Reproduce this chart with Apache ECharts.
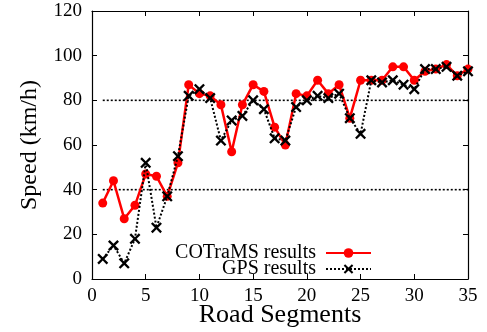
<!DOCTYPE html>
<html><head><meta charset="utf-8">
<script src="https://cdn.jsdelivr.net/npm/echarts@6/dist/echarts.min.js"></script>
<style>html,body{margin:0;padding:0;background:#fff}#c{width:487px;height:332px}</style>
</head><body><div id="c"></div>
<script>
const segments = [1,2,3,4,5,6,7,8,9,10,11,12,13,14,15,16,17,18,19,20,21,22,23,24,25,26,27,28,29,30,31,32,33,34,35];
const cotramsSpeed = [34,44,27,33,47,46,37,52,87,83,82,78,57,78,87,84,68,60,83,82,89,83,87,72,89,89,89,95,95,89,93,94,96,91,94];
const gpsSpeed = [9,15,7,18,52,23,37,55,82,85,81,62,71,73,80,76,63,62,77,80,82,81,83,72,65,89,88,89,87,85,94,94,95,91,93];
const refLevels = [40, 80];
const xTicks = [0,5,10,15,20,25,30,35];
const yTicks = [0,20,40,60,80,100,120];

const font = 'Liberation Serif';
const crossPath = 'path://M0,1.5 L1.5,0 L5,3.5 L8.5,0 L10,1.5 L6.5,5 L10,8.5 L8.5,10 L5,6.5 L1.5,10 L0,8.5 L3.5,5 Z';

const refSeries = refLevels.map(v => ({
  type: 'line', silent: true, symbol: 'none', z: 1,
  data: [[segments[0], v], [segments[segments.length-1], v]],
  lineStyle: {color: '#000', width: 1.6, type: [2, 2]}
}));

const chart = echarts.init(document.getElementById('c'), null, {renderer: 'canvas'});
function axisCommon() {
  return {
    axisLine: {show: true, onZero: false, lineStyle: {color: '#000', width: 1.2}},
    axisTick: {show: true, inside: true, length: 5, lineStyle: {color: '#000', width: 1}},
    splitLine: {show: false}
  };
}
chart.setOption({
  animation: false,
  backgroundColor: '#fff',
  grid: {left: 92, right: 19, top: 11, bottom: 53, containLabel: false, outerBoundsMode: 'none'},
  legend: {
    data: ['COTraMS results', 'GPS results'],
    orient: 'vertical', right: 115, top: 243, padding: 0,
    align: 'right', itemGap: -4, itemWidth: 45, itemHeight: 12,
    textStyle: {fontFamily: font, fontSize: 20, color: '#000', lineHeight: 14, width: 146, align: 'right', padding: [0, 5, 0, 0]}
  },
  xAxis: [
    Object.assign({type: 'value', min: xTicks[0], max: xTicks[xTicks.length-1], interval: 5, position: 'bottom',
      axisLabel: {fontFamily: font, fontSize: 19, color: '#000', margin: 8},
      name: 'Road Segments', nameLocation: 'middle', nameGap: 36, nameMoveOverlap: false,
      nameTextStyle: {fontFamily: font, fontSize: 26, color: '#000', verticalAlign: 'middle'}}, axisCommon()),
    Object.assign({type: 'value', min: xTicks[0], max: xTicks[xTicks.length-1], interval: 5, position: 'top',
      axisLabel: {show: false}}, axisCommon())
  ],
  yAxis: [
    Object.assign({type: 'value', min: yTicks[0], max: yTicks[yTicks.length-1], interval: 20, position: 'left',
      axisLabel: {fontFamily: font, fontSize: 19, color: '#000', margin: 10},
      name: 'Speed (km/h)', nameLocation: 'middle', nameGap: 50,
      nameTextStyle: {fontFamily: font, fontSize: 24, color: '#000'}}, axisCommon()),
    Object.assign({type: 'value', min: yTicks[0], max: yTicks[yTicks.length-1], interval: 20, position: 'right',
      axisLabel: {show: false}}, axisCommon())
  ],
  series: refSeries.concat([
    {
      name: 'COTraMS results', type: 'line', z: 3,
      data: segments.map((s, i) => [s, cotramsSpeed[i]]),
      symbol: 'circle', symbolSize: 9,
      lineStyle: {color: '#ff0000', width: 2.5},
      itemStyle: {color: '#ff0000'}
    },
    {
      name: 'GPS results', type: 'line', z: 4,
      data: segments.map((s, i) => [s, gpsSpeed[i]]),
      symbol: crossPath, symbolSize: 11,
      lineStyle: {color: '#000', width: 2, type: [2, 2]},
      itemStyle: {color: '#000'}
    }
  ])
});
</script></body></html>
